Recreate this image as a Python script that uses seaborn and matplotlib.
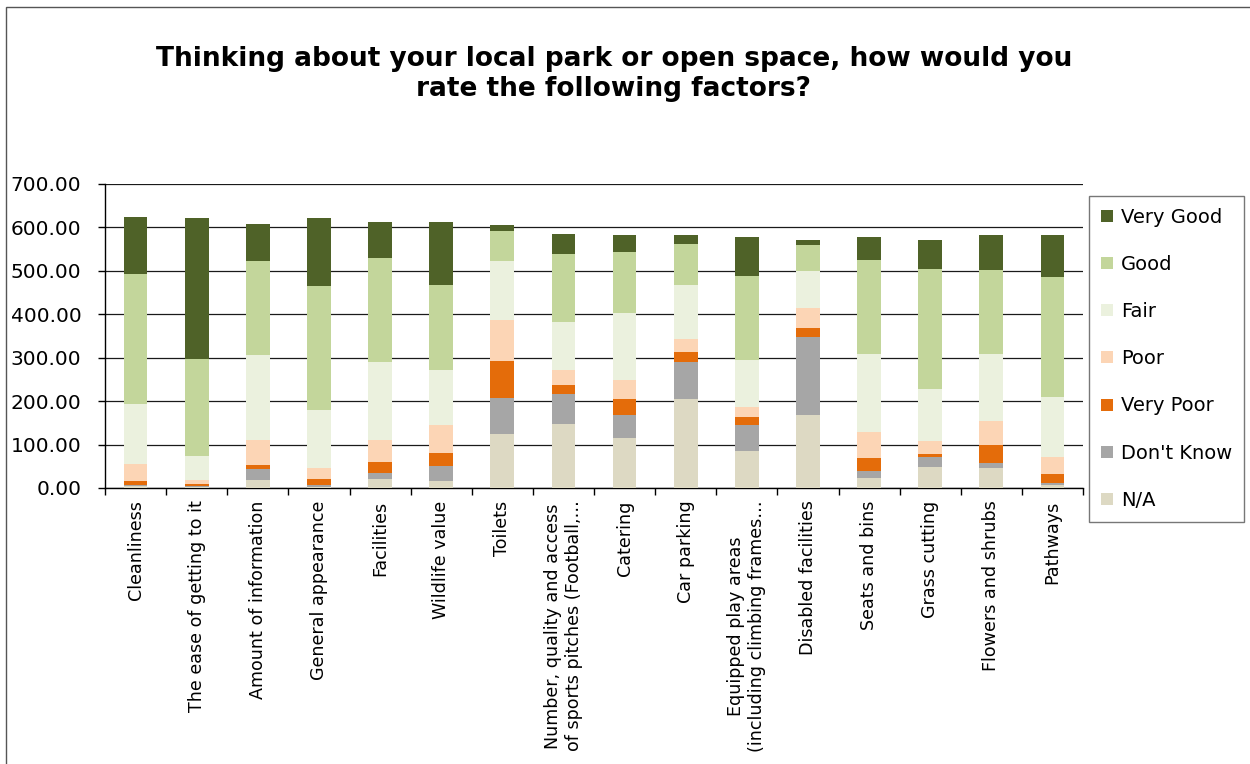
import matplotlib
matplotlib.use("Agg")
import matplotlib.pyplot as plt
from matplotlib.lines import Line2D
from matplotlib.patches import Rectangle
from matplotlib.ticker import MultipleLocator, FixedLocator, FormatStrFormatter
import numpy as np
import pandas as pd
import seaborn as sns

factors = [
    "Cleanliness",
    "The ease of getting to it",
    "Amount of information",
    "General appearance",
    "Facilities",
    "Wildlife value",
    "Toilets",
    "Number, quality and access\nof sports pitches (Football,…",
    "Catering",
    "Car parking",
    "Equipped play areas\n(including climbing frames…",
    "Disabled facilities",
    "Seats and bins",
    "Grass cutting",
    "Flowers and shrubs",
    "Pathways",
]

# Responses per rating, bottom of the stack first
na         = [4, 2, 19, 3, 21, 15, 124, 147, 114, 205, 85, 167, 22, 48, 47, 6]
dont_know  = [3, 2, 25, 3, 14, 36, 84, 70, 55, 84, 60, 181, 16, 24, 11, 5]
very_poor  = [10, 6, 10, 15, 24, 30, 85, 19, 37, 23, 18, 21, 30, 7, 41, 22]
poor       = [39, 8, 57, 24, 52, 63, 93, 36, 43, 30, 23, 45, 62, 28, 56, 38]
fair       = [138, 55, 195, 134, 178, 128, 137, 111, 154, 125, 109, 85, 179, 121, 154, 138]
good       = [299, 224, 217, 287, 241, 195, 68, 155, 140, 95, 192, 61, 215, 276, 192, 276]
very_good  = [131, 325, 85, 155, 83, 146, 15, 47, 40, 20, 90, 12, 55, 68, 81, 98]

ratings = ["N/A", "Don't Know", "Very Poor", "Poor", "Fair", "Good", "Very Good"]
series = [na, dont_know, very_poor, poor, fair, good, very_good]
colors = {
    "Very Good": "#4F6228",
    "Good": "#C3D69B",
    "Fair": "#EBF1DE",
    "Poor": "#FCD5B5",
    "Very Poor": "#E46C0A",
    "Don't Know": "#A6A6A6",
    "N/A": "#DDD9C3",
}

df = pd.DataFrame(dict(zip(ratings, series)), index=factors)
cumulative = df.cumsum(axis=1)

sns.set_theme(style="white")
plt.rcParams["font.family"] = ["DejaVu Sans"]
plt.rcParams["text.color"] = "black"

fig = plt.figure(figsize=(12.5, 7.64), dpi=100)
ax = fig.add_axes([0.084, 0.3613, 0.7824, 0.3979])

# Stacked bars: draw cumulative totals from the top layer down
for rating in ratings[::-1]:
    plot_df = pd.DataFrame({"factor": factors, "value": cumulative[rating].values})
    sns.barplot(data=plot_df, x="factor", y="value", color=colors[rating],
                width=0.39, saturation=1, ax=ax, linewidth=0, zorder=3)

ax.set_ylim(0, 700)
ax.set_xlim(-0.5, len(factors) - 0.5)
ax.yaxis.set_major_locator(MultipleLocator(100))
ax.yaxis.set_major_formatter(FormatStrFormatter("%.2f"))
ax.grid(axis="y", color="#1a1a1a", linewidth=0.9, zorder=0)
ax.grid(axis="x", visible=False)
ax.set_axisbelow(True)

ax.set_xlabel("")
ax.set_ylabel("")
ax.set_xticks(range(len(factors)))
ax.set_xticklabels(factors, rotation=90, va="top", ha="center",
                   fontsize=12.6, linespacing=1.2)
ax.xaxis.set_minor_locator(FixedLocator(np.arange(-0.5, len(factors), 1.0)))
ax.tick_params(axis="x", which="major", length=0, pad=9)
ax.tick_params(axis="x", which="minor", length=5, width=1, color="black",
               direction="out", bottom=True)
ax.tick_params(axis="y", which="major", length=5, width=1, color="black",
               direction="out", left=True, labelsize=14.5, pad=12)
for lab in ax.get_yticklabels() + ax.get_xticklabels():
    lab.set_color("black")

for side in ["top", "right"]:
    ax.spines[side].set_visible(False)
for side in ["left", "bottom"]:
    ax.spines[side].set_color("black")
    ax.spines[side].set_linewidth(1)

# Legend with small square keys
handles = [Line2D([], [], marker="s", linestyle="none", markersize=8.5,
                  markerfacecolor=colors[r], markeredgewidth=0, label=r)
           for r in ratings[::-1]]
leg = fig.legend(handles=handles, loc="upper left",
                 bbox_to_anchor=(1089 / 1250, 1 - 196 / 764),
                 frameon=True, fancybox=False, fontsize=14,
                 handlelength=0.7, handletextpad=0.35, labelspacing=1.45,
                 borderpad=0.6, borderaxespad=0, labelcolor="black")
leg.get_frame().set_edgecolor("#555555")
leg.get_frame().set_linewidth(1)

fig.text(0.491, 1 - 96 / 764,
         "Thinking about your local park or open space, how would you\nrate the following factors?",
         ha="center", va="baseline", fontsize=19, fontweight="bold",
         linespacing=1.18, color="black")

# Chart area border
fig.patches.append(Rectangle((6 / 1250, -0.1), 1.2, 1 - 7 / 764 + 0.1,
                             transform=fig.transFigure, fill=False,
                             edgecolor="#555555", linewidth=1))

fig.savefig("out.png", dpi=100, facecolor="white")
